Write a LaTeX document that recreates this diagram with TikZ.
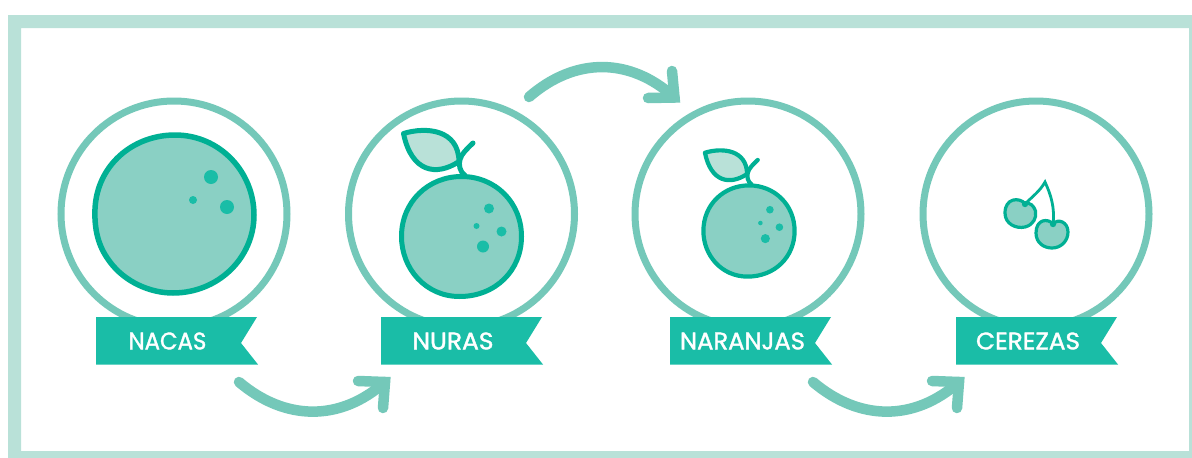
\documentclass[tikz,border=0pt]{standalone}
\usepackage{fontspec}
\setmainfont{Poppins}
\newfontfamily\bannerfont[FakeBold=1.5]{Poppins}
\definecolor{framec}{HTML}{B9E1D8}
\definecolor{ringc}{HTML}{74C8B9}
\definecolor{darkc}{HTML}{00B094}
\definecolor{fillc}{HTML}{8AD0C4}
\definecolor{ribbonc}{HTML}{1ABDA7}
\tikzset{
  ring/.style={circle,draw=ringc,line width=7pt,fill=white,minimum size=226pt,inner sep=0pt},
  bannertext/.style={text=white,font=\bannerfont\fontsize{24}{26}\selectfont,inner sep=0pt,anchor=center},
  ribbonshape/.style={fill=ribbonc,draw=none},
  curvearrow/.style={draw=ringc,line width=10.5pt,line cap=round,line join=miter},
  fruit/.style={draw=darkc,fill=fillc,line join=round},
  leafshape/.style={draw=darkc,fill=framec,line join=round},
  stem/.style={draw=darkc,line cap=round},
  speck/.style={fill=ribbonc,draw=none}
}
\newcommand{\orangeshape}{%
  \path[fruit] (-60,0) .. controls (-60,-35) and (-33,-60) .. (0,-60) .. controls (34,-60) and (60,-34) .. (60,0)
     .. controls (60,34) and (34,60) .. (-2,60) .. controls (-36,60) and (-60,32) .. (-60,0) -- cycle;
  \path[leafshape] (-58,-103) .. controls (-35,-110) and (-3,-107) .. (-2.5,-75)
     .. controls (-25,-60) and (-50,-64) .. (-58,-103) -- cycle;
  \path[stem] (3.5,-61) .. controls (-2,-65) and (-3,-72) .. (-1.5,-77) .. controls (0,-83) and (6,-88) .. (11.5,-93.5);
  \fill[speck] (27.5,-28) circle (5);
  \fill[speck] (40,-5) circle (5);
  \fill[speck] (21.5,10) circle (6);
  \fill[speck] (15,-10.5) circle (3);
}
\begin{document}
\begin{tikzpicture}[x=1pt,y=-1pt]
\useasboundingbox (0,0) rectangle (1192,458);
\fill[white] (0,0) rectangle (1192,458);
\fill[framec,even odd rule] (8,15) rectangle (1198,464) (21,28) rectangle (1189,451);

\node[ring] (c1) at (174,214) {};
\node[ring] (c2) at (461.5,214) {};
\node[ring] (c3) at (748,214) {};
\node[ring] (c4) at (1036,214) {};

% NACAS fruit
\path[fruit,line width=5.5pt] (95,209) .. controls (97,165) and (133,135) .. (175,135)
  .. controls (220,135) and (254,172) .. (254,215)
  .. controls (254,258) and (218,293) .. (173,293)
  .. controls (150,293) and (125,282) .. (110,262)
  .. controls (101,250) and (94,235) .. (95,209) -- cycle;
\fill[speck] (211,177) circle (7);
\fill[speck] (227,207) circle (7);
\fill[speck] (193,200) circle (4);

% NURAS fruit
\begin{scope}[shift={(461.5,236.5)},line width=5pt]
  \orangeshape
\end{scope}
% NARANJAS fruit
\begin{scope}[shift={(749,231)},scale=.76,line width=4.2pt]
  \orangeshape
\end{scope}

% CEREZAS fruit
\begin{scope}[line width=3.2pt]
  \path[fruit] (1025,203.5) .. controls (1019,197) and (1005,198) .. (1005,213)
     .. controls (1005,224) and (1016,229) .. (1025,227) .. controls (1033,225) and (1037,218) .. (1035.5,211)
     .. controls (1034,206) and (1030,202) .. (1025,203.5) -- cycle;
  \path[fruit] (1053,224) .. controls (1048,218) and (1036,219) .. (1036,233)
     .. controls (1036,243) and (1044,248) .. (1052,248) .. controls (1061,248) and (1068,241) .. (1068,232)
     .. controls (1068,222) and (1058,218) .. (1053,224) -- cycle;
  \path[stem,line width=2.8pt] (1025,204) .. controls (1033,196) and (1040,191) .. (1045,182)
     .. controls (1051,195) and (1055,208) .. (1053,224);
  \fill[darkc] (1025,204) circle (3.2);
  \fill[darkc] (1053,224) circle (3.2);
\end{scope}

% ribbons
\fill[ribbonshape] (96,317) -- (257,317) -- (241,343) -- (258,364.5) -- (96,364.5) -- cycle;
\fill[ribbonshape] (381,317) -- (542,317) -- (526,343) -- (543,364.5) -- (381,364.5) -- cycle;
\fill[ribbonshape] (670,317) -- (831,317) -- (815,343) -- (832,364.5) -- (670,364.5) -- cycle;
\fill[ribbonshape] (956,317) -- (1117,317) -- (1101,343) -- (1118,364.5) -- (956,364.5) -- cycle;
\node[bannertext] (l1) at (167.5,341) {\scalebox{.95}[1]{NACAS}};
\node[bannertext] (l2) at (453,341) {\scalebox{1.04}[1]{NURAS}};
\node[bannertext] (l3) at (742.5,341) {\scalebox{1.01}[1]{NARANJAS}};
\node[bannertext] (l4) at (1028,341) {\scalebox{1.03}[1]{CEREZAS}};

% arrows
\coordinate (a1s) at (239,382);
\coordinate (a1t) at (385,382);
\coordinate (a1h) at (358,381);
\coordinate (a1k) at (383,408);
\draw[curvearrow] (a1s) .. controls (285,421) and (340,422) .. (a1t);
\draw[curvearrow] (a1h) -- (a1t) -- (a1k);

\coordinate (a2s) at (529,97);
\coordinate (a2t) at (674.5,97.5);
\coordinate (a2h) at (648,98);
\coordinate (a2k) at (672,71);
\draw[curvearrow] (a2s) .. controls (575,57) and (630,57) .. (a2t);
\draw[curvearrow] (a2h) -- (a2t) -- (a2k);

\coordinate (a3s) at (813,382);
\coordinate (a3t) at (959,382);
\coordinate (a3h) at (932,381);
\coordinate (a3k) at (957,408);
\draw[curvearrow] (a3s) .. controls (859,421) and (914,422) .. (a3t);
\draw[curvearrow] (a3h) -- (a3t) -- (a3k);
\end{tikzpicture}
\end{document}
